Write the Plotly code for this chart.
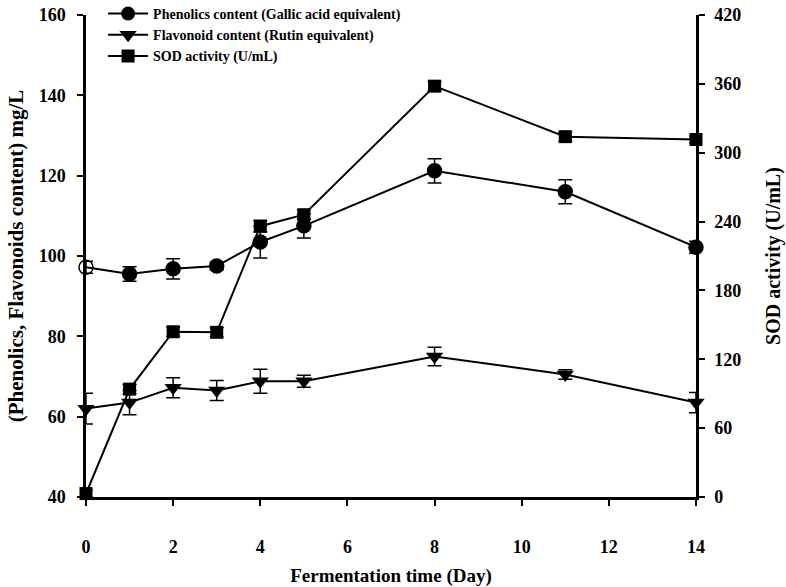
import plotly.graph_objects as go

days = [0, 1, 2, 3, 4, 5, 8, 11, 14]
phenolics = [97.2, 95.5, 96.8, 97.5, 103.5, 107.5, 121.2, 116.0, 102.2]
phenolics_err = [1.5, 1.8, 2.5, 1.0, 4.0, 3.0, 3.0, 3.0, 1.5]
flavonoid = [62.0, 63.5, 67.2, 66.5, 68.8, 68.8, 75.0, 70.5, 63.5]
flavonoid_err = [3.8, 3.0, 2.5, 2.5, 3.0, 1.5, 2.3, 1.2, 2.5]
sod = [3.0, 94.0, 144.0, 143.5, 236.0, 246.0, 358.0, 314.0, 311.5]
sod_err = [3.0, 4.0, 4.0, 4.0, 5.0, 4.0, 4.0, 4.0, 3.0]

x_ticks = [0, 2, 4, 6, 8, 10, 12, 14]
left_ticks = [40, 60, 80, 100, 120, 140, 160]
right_ticks = [0, 60, 120, 180, 240, 300, 360, 420]

names = ["Phenolics content (Gallic acid equivalent)",
         "Flavonoid content (Rutin equivalent)",
         "SOD activity (U/mL)"]

FONT = "Liberation Serif"
black = "#000000"

def err(arr):
    return dict(type="data", array=arr, visible=True, color=black, thickness=1.5, width=7)

fig = go.Figure()
# Phenolics (first point drawn hollow as in the original); legend entry separate
fig.add_trace(go.Scatter(
    x=days, y=phenolics, name=names[0], mode="lines+markers", showlegend=False,
    line=dict(color=black, width=2),
    marker=dict(symbol=["circle-open"] + ["circle"] * (len(days) - 1), size=14, color=black,
                line=dict(color=black, width=1.5)),
    error_y=err(phenolics_err), cliponaxis=False, yaxis="y"))
fig.add_trace(go.Scatter(
    x=[None], y=[None], name=names[0], mode="lines+markers",
    line=dict(color=black, width=2),
    marker=dict(symbol="circle", size=14, color=black), yaxis="y"))
fig.add_trace(go.Scatter(
    x=days, y=flavonoid, name=names[1], mode="lines+markers",
    line=dict(color=black, width=2),
    marker=dict(symbol="triangle-down", size=15, color=black),
    error_y=err(flavonoid_err), cliponaxis=False, yaxis="y"))
fig.add_trace(go.Scatter(
    x=days, y=sod, name=names[2], mode="lines+markers",
    line=dict(color=black, width=2),
    marker=dict(symbol="square", size=13, color=black),
    error_y=err(sod_err), cliponaxis=False, yaxis="y2"))

tickfont = dict(family=FONT, size=18, color=black, weight="bold")

W, H = 786, 587
top_px, bot_px = 15, 90
dom_top = (H - top_px - bot_px) / (H - bot_px)

fig.update_layout(
    width=W, height=H,
    margin=dict(l=86, r=90, t=0, b=bot_px, autoexpand=False),
    plot_bgcolor="white", paper_bgcolor="white",
    showlegend=True,
    legend=dict(x=0.028, y=1.004, xanchor="left", yanchor="top",
                font=dict(family=FONT, size=14, color=black, weight="bold"),
                bgcolor="rgba(0,0,0,0)", tracegroupgap=0, itemwidth=40),
    xaxis=dict(range=[0, 14], tickvals=x_ticks, ticks="outside", ticklen=6, tickwidth=2,
               tickcolor=black, showline=True, linecolor=black, linewidth=2.5,
               showgrid=False, zeroline=False, tickfont=tickfont, ticklabelstandoff=26,
               automargin=False,
               title=dict(text="Fermentation time (Day)",
                          font=dict(family=FONT, size=19, color=black, weight="bold"), standoff=16)),
    yaxis=dict(range=[40, 160], tickvals=left_ticks, ticks="outside", ticklen=6, tickwidth=2,
               domain=[0, dom_top], automargin=False,
               tickcolor=black, showline=True, linecolor=black, linewidth=2.5,
               showgrid=False, zeroline=False, tickfont=tickfont, ticklabelstandoff=8,
               title=dict(text="(Phenolics, Flavonoids content) mg/L",
                          font=dict(family=FONT, size=21, color=black, weight="bold"), standoff=10)),
    yaxis2=dict(range=[0, 420], tickvals=right_ticks, ticks="outside", ticklen=6, tickwidth=2,
                tickcolor=black, showline=True, linecolor=black, linewidth=2.5,
                overlaying="y", side="right", anchor="x", automargin=False,
                showgrid=False, zeroline=False, tickfont=tickfont, ticklabelstandoff=6,
                title=dict(text="SOD activity (U/mL)",
                           font=dict(family=FONT, size=20, color=black, weight="bold"), standoff=26)),
)

# remove the browser's default 8px body margin so the figure fills the window
fig.write_html("out.html", config={"displayModeBar": False},
               post_script="document.body.style.margin='0';")
